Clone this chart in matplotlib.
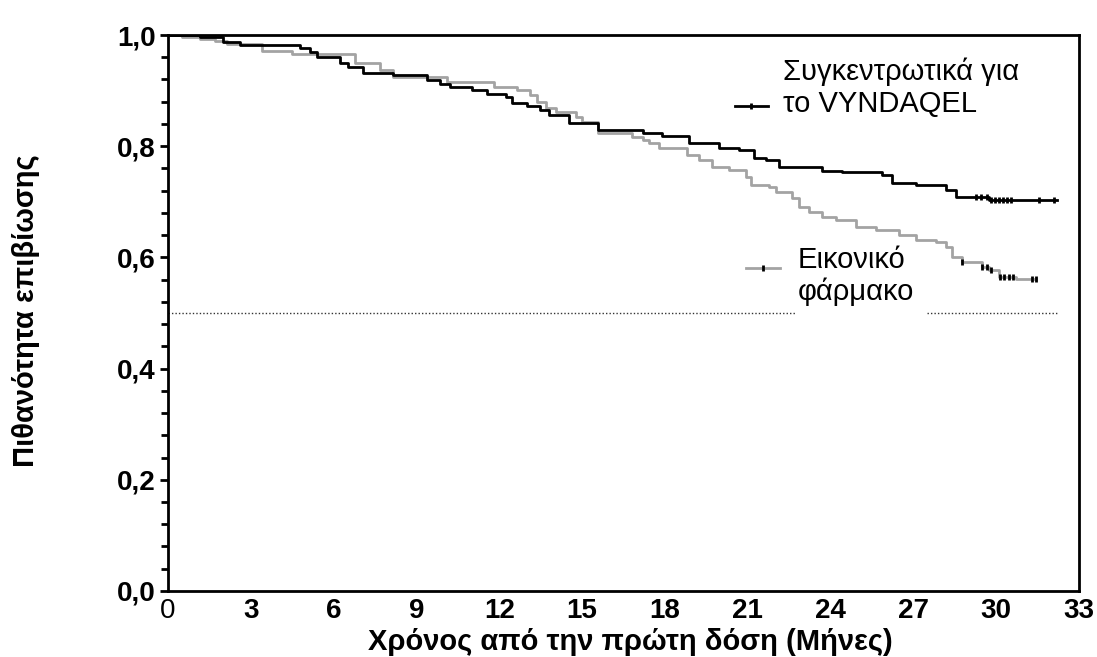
import numpy as np
import matplotlib.pyplot as plt
from matplotlib.lines import Line2D
from matplotlib.ticker import MultipleLocator

plt.rcParams['font.family'] = ['Liberation Sans', 'DejaVu Sans']

# Kaplan-Meier steps (months, survival probability)
vyn_t = [0, 1.16, 1.99, 2.60, 4.78, 5.14, 5.39, 6.22, 6.51, 7.06, 8.14, 9.37, 9.84,
         10.2, 11.03, 11.54, 12.26, 12.48, 12.99, 13.46, 13.82, 14.54, 15.56, 17.19,
         17.91, 18.89, 19.97, 20.69, 21.24, 21.67, 22.14, 23.70, 24.42, 25.87, 26.23,
         27.10, 28.18, 28.55, 29.74, 32.2]
vyn_s = [1.0, 0.997, 0.988, 0.982, 0.976, 0.969, 0.961, 0.950, 0.942, 0.932, 0.928,
         0.919, 0.912, 0.906, 0.901, 0.894, 0.888, 0.877, 0.872, 0.865, 0.856, 0.841,
         0.829, 0.824, 0.818, 0.805, 0.796, 0.793, 0.778, 0.775, 0.763, 0.756, 0.753,
         0.748, 0.734, 0.730, 0.721, 0.709, 0.703, 0.703]
vyn_cens = [29.27, 29.45, 29.65, 29.8, 29.95, 30.1, 30.25, 30.4, 30.55, 31.55, 32.1]

pla_t = [0, 0.51, 1.16, 1.70, 2.13, 3.40, 4.49, 6.77, 7.67, 8.14, 10.09, 11.8, 12.63,
         13.1, 13.35, 13.69, 14.05, 14.77, 14.99, 15.56, 16.82, 17.19, 17.44, 17.80,
         18.81, 19.25, 19.72, 20.33, 20.95, 21.13, 21.78, 22.03, 22.61, 22.87, 23.23,
         23.70, 24.20, 24.93, 25.65, 26.48, 27.10, 27.82, 28.18, 28.40, 28.76, 29.49,
         29.74, 30.10, 30.72, 31.44]
pla_s = [1.0, 0.996, 0.993, 0.989, 0.984, 0.972, 0.966, 0.949, 0.937, 0.925, 0.915,
         0.907, 0.901, 0.892, 0.880, 0.868, 0.862, 0.853, 0.844, 0.824, 0.817, 0.811,
         0.806, 0.796, 0.784, 0.775, 0.763, 0.757, 0.745, 0.730, 0.726, 0.718, 0.706,
         0.691, 0.682, 0.673, 0.667, 0.655, 0.649, 0.640, 0.631, 0.628, 0.619, 0.601,
         0.592, 0.583, 0.577, 0.565, 0.561, 0.561]
pla_cens = [28.76, 29.5, 29.65, 29.8, 30.15, 30.3, 30.45, 30.6, 31.3, 31.44]

median_line = 0.5
gap = (22.76, 27.5)  # where the placebo label sits on the dotted line

x_ticks = [0, 3, 6, 9, 12, 15, 18, 21, 24, 27, 30, 33]
y_ticks = [0.0, 0.2, 0.4, 0.6, 0.8, 1.0]
y_ticklabels = ["0,0", "0,2", "0,4", "0,6", "0,8", "1,0"]

label_vyn = "Συγκεντρωτικά για\nτο VYNDAQEL"
label_pla = "Εικονικό\nφάρμακο"
gray = "#a3a3a3"


def surv_at(times, t, s):
    idx = np.searchsorted(t, times, side="right") - 1
    return np.asarray(s)[idx]


fig = plt.figure(figsize=(10.97, 6.57), dpi=100)
ax = fig.add_axes([0.1531, 0.1005, 0.8305, 0.8462])

ax.hlines(median_line, 0, gap[0], colors="#333333", linestyles=(0, (1, 1.5)), lw=1)
ax.hlines(median_line, gap[1], vyn_t[-1], colors="#333333", linestyles=(0, (1, 1.5)), lw=1)

ax.step(pla_t, pla_s, where="post", color=gray, lw=2)
ax.step(vyn_t, vyn_s, where="post", color="black", lw=2)

ax.plot(pla_cens, surv_at(pla_cens, pla_t, pla_s), ls="none", marker="|",
        color="black", ms=4, mew=2)
ax.plot(vyn_cens, surv_at(vyn_cens, vyn_t, vyn_s), ls="none", marker="|",
        color="black", ms=4, mew=2)

ax.set_xlim(0, 33)
ax.set_ylim(0, 1.0)
ax.set_xticks(x_ticks)
ax.set_xticklabels([str(v) for v in x_ticks], fontsize=20, fontweight="bold")
ax.get_xticklabels()[0].set_fontweight("normal")
ax.set_yticks(y_ticks)
ax.set_yticklabels(y_ticklabels, fontsize=20, fontweight="bold")
ax.yaxis.set_minor_locator(MultipleLocator(0.04))
ax.tick_params(axis="x", length=0, pad=5)
ax.tick_params(axis="y", which="major", length=6, width=2, pad=3)
ax.tick_params(axis="y", which="minor", length=5, width=2)
for sp in ax.spines.values():
    sp.set_linewidth(2)

# legend entries drawn by hand, as in the original
ax.add_line(Line2D([0.622, 0.659], [0.872, 0.872], transform=ax.transAxes,
                   color="black", lw=2))
ax.add_line(Line2D([0.6405], [0.872], transform=ax.transAxes, color="black",
                   marker="|", ms=4, mew=2))
ax.text(0.675, 0.959, label_vyn, transform=ax.transAxes, fontsize=21,
        va="top", ha="left", linespacing=1.15)

ax.add_line(Line2D([0.635, 0.672], [0.581, 0.581], transform=ax.transAxes,
                   color=gray, lw=2))
ax.add_line(Line2D([0.653], [0.581], transform=ax.transAxes, color="black",
                   marker="|", ms=4, mew=2))
ax.text(0.691, 0.620, label_pla, transform=ax.transAxes, fontsize=21,
        va="top", ha="left", linespacing=1.15)

fig.text(630 / 1097, 1 - 650 / 657, "Χρόνος από την πρώτη δόση (Μήνες)",
         fontsize=21, fontweight="bold", ha="center", va="baseline")
fig.text(26 / 1097, 1 - 311 / 657, "Πιθανότητα επιβίωσης", fontsize=21,
         fontweight="bold", rotation=90, ha="center", va="center")

fig.savefig("out.png", dpi=100)
